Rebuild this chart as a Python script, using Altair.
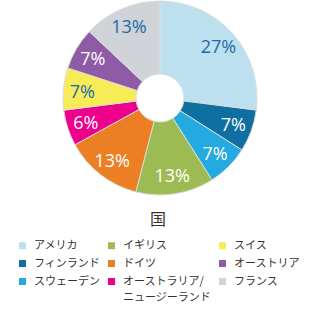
import altair as alt
import pandas as pd

countries = ["アメリカ", "フィンランド", "スウェーデン", "イギリス", "ドイツ",
             "オーストラリア/ニュージーランド", "スイス", "オーストリア", "フランス"]
shares = [27, 7, 7, 13, 13, 6, 7, 7, 13]
colors = ["#bde0ef", "#0e6fa0", "#22aae1", "#9dbb53", "#ec7e23",
          "#ec008c", "#f7ec55", "#8f5ba6", "#d0d3d8"]
label_colors = ["#1b6ca8", "#ffffff", "#ffffff", "#ffffff", "#ffffff",
                "#ffffff", "#1b6ca8", "#ffffff", "#1b6ca8"]
# legend reads column by column
legend_order = ["アメリカ", "イギリス", "スイス",
                "フィンランド", "ドイツ", "オーストリア",
                "スウェーデン", "オーストラリア/ニュージーランド", "フランス"]

df = pd.DataFrame({
    "国": countries,
    "share": shares,
    "order": list(range(len(countries))),
    "label": [f"{v}%" for v in shares],
    "tcolor": label_colors,
})

color_map = dict(zip(countries, colors))
cx, cy = 160, 98

base = alt.Chart(df).encode(
    theta=alt.Theta("share:Q", stack=True),
    order=alt.Order("order:Q"),
    x=alt.value(cx),
    y=alt.value(cy),
)

arcs = base.mark_arc(radius=97, radius2=24, stroke="#dcdcdc", strokeWidth=1).encode(
    color=alt.Color(
        "国:N",
        scale=alt.Scale(domain=legend_order, range=[color_map[c] for c in legend_order]),
        legend=alt.Legend(
            title="国",
            orient="none",
            legendX=17,
            legendY=212,
            columns=3,
            direction="horizontal",
            symbolType="square",
            symbolSize=49,
            symbolStrokeWidth=0,
            labelFont="Noto Sans CJK JP",
            labelFontSize=11,
            labelColor="#333333",
            labelOffset=6,
            columnPadding=6,
            rowPadding=6,
            titleFont="Noto Sans CJK JP",
            titleFontSize=16,
            titleFontWeight="normal",
            titleColor="#333333",
            titleAnchor="middle",
            titlePadding=12,
            labelExpr="datum.label == 'オーストラリア/ニュージーランド' ? ['オーストラリア/', 'ニュージーランド'] : datum.label",
        ),
    )
)

texts = base.mark_text(radius=78, font="Open Sans", fontSize=18, dy=2).encode(
    text="label:N",
    color=alt.Color("tcolor:N", scale=None),
)

chart = (arcs + texts).properties(
    width=314, height=312, padding=0, autosize="none"
).configure(
    style={"guide-label": {"lineHeight": 16}}
).configure_view(stroke=None)

chart.save("out.html", embed_options={"renderer": "svg", "actions": False})
